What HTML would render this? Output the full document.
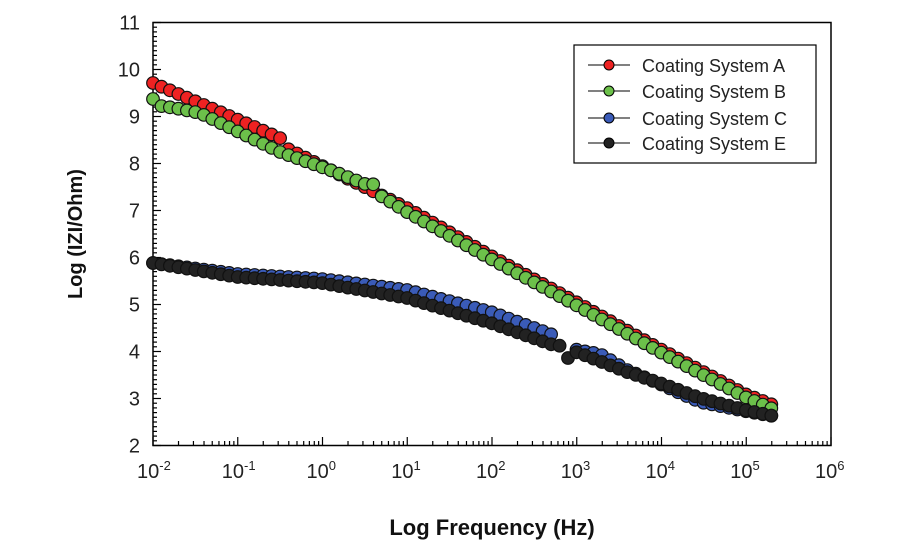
<!DOCTYPE html>
<html><head><meta charset="utf-8"><style>
body{margin:0;background:#fff;}
svg text{font-family:"Liberation Sans","DejaVu Sans",sans-serif;}
</style></head><body>
<svg id="s" width="900" height="550" xmlns="http://www.w3.org/2000/svg">
<rect x="153" y="22.5" width="678" height="423" fill="none" stroke="#000" stroke-width="1.5"/>
<g id="ticks" stroke="#000" stroke-width="1.2"></g>
<g font-size="20" fill="#222" text-anchor="end" id="yl"></g>
<g font-size="20" fill="#222" id="xl"></g>
<g id="pts"></g>
<text x="82" y="234" font-size="20" font-weight="bold" text-anchor="middle" transform="rotate(-90 82 234)" fill="#111">Log (IZI/Ohm)</text>
<text x="492" y="535" font-size="22" font-weight="bold" text-anchor="middle" fill="#111">Log Frequency (Hz)</text>
<rect x="574" y="45" width="242" height="118" fill="#fff" stroke="#000" stroke-width="1.2"/>
<g font-size="18" fill="#222">
<line x1="588" y1="65" x2="630" y2="65" stroke="#000"/><circle cx="609" cy="65" r="5" fill="#ee2222" stroke="#000"/><text x="642" y="72">Coating System A</text>
<line x1="588" y1="91" x2="630" y2="91" stroke="#000"/><circle cx="609" cy="91" r="5" fill="#6cc04a" stroke="#000"/><text x="642" y="98">Coating System B</text>
<line x1="588" y1="118" x2="630" y2="118" stroke="#000"/><circle cx="609" cy="118" r="5" fill="#3a5bb8" stroke="#000"/><text x="642" y="125">Coating System C</text>
<line x1="588" y1="143" x2="630" y2="143" stroke="#000"/><circle cx="609" cy="143" r="5" fill="#222" stroke="#000"/><text x="642" y="150">Coating System E</text>
</g>
</svg>
<script>
const NS="http://www.w3.org/2000/svg";
function el(p,t,a,txt){const e=document.createElementNS(NS,t);for(const k in a)e.setAttribute(k,a[k]);if(txt!==undefined)e.innerHTML=txt;document.getElementById(p).appendChild(e);return e;}
const X0=153,D=84.75,Y0=445.5,U=47;
for(let v=2;v<=11;v++){const y=Y0-(v-2)*U;el('yl','text',{x:140,y:y+7},v);
 el('ticks','line',{x1:153,y1:y,x2:161,y2:y});
 if(v<11)for(let m=1;m<10;m++){const yy=y-m*U/10;el('ticks','line',{x1:153,y1:yy,x2:157,y2:yy});}}
for(let d=-2;d<=6;d++){const x=X0+(d+2)*D;
 el('xl','text',{x:x-16,y:478},'10<tspan font-size="13" dy="-8">'+d+'</tspan>');
 el('ticks','line',{x1:x,y1:445.5,x2:x,y2:437});
 if(d<6)for(let m=2;m<10;m++){const xx=x+Math.log10(m)*D;el('ticks','line',{x1:xx,y1:445.5,x2:xx,y2:441});}}
function interp(k,x){for(let i=0;i<k.length-1;i++){if(x<=k[i+1][0]){const t=(x-k[i][0])/(k[i+1][0]-k[i][0]);return k[i][1]+t*(k[i+1][1]-k[i][1]);}}return k[k.length-1][1];}
const S=[
 ['#ee2222',[[153,83],[280,138],[284,146],[288,149],[407,208],[491,256],[576,302],[660,349],[745,394],[773,405]],null],
 ['#6cc04a',[[153,99],[161,106],[175,108],[200,113],[280,152],[330,170],[365,184],[373,184],[381,196],[407,212],[491,259],[576,305],[660,352],[745,397],[773,409]],null],
 ['#3a5bb8',[[153,263],[238,274],[322,279],[407,290],[491,312],[553,335],[577,350],[600,354],[627,370],[660,384],[700,402],[745,411],[773,416]],[556,574]],
 ['#222222',[[153,263],[238,277],[322,283],[407,298],[491,323],[553,345],[563,346],[568,358],[577,352],[627,372],[660,383],[700,398],[745,410],[773,416]],null]
];
for(const [c,k,gap] of S){for(let i=0;i<74;i++){const x=X0+i*8.47;if(gap&&x>gap[0]&&x<gap[1])continue;
 el('pts','circle',{cx:x.toFixed(1),cy:interp(k,x).toFixed(1),r:6.3,fill:c,stroke:'#111','stroke-width':1.2});}}
</script>
</body></html>
